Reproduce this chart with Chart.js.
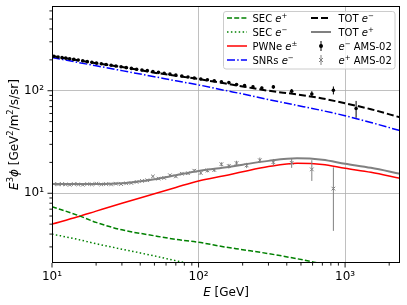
<!DOCTYPE html>
<html>
<head>
<meta charset="utf-8">
<script src="https://cdn.jsdelivr.net/npm/chart.js@4.4.1/dist/chart.umd.min.js"></script>
<style>
html, body { margin: 0; padding: 0; background: #fff; }
</style>
</head>
<body>
<canvas id="c" width="407" height="305"></canvas>
<script>
// model curves, read on a common energy grid (GeV)
const energies = [10, 15, 20, 30, 50, 70, 100, 150, 200, 300, 470, 700, 1000, 1500, 2370];
const secPos = [7.4, 6.1, 5.2, 4.4, 3.85, 3.55, 3.33, 3.0, 2.82, 2.58, 2.3, 2.05, 1.85, 1.68, 1.5];
const secEle = [4.0, 3.55, 3.22, 2.85, 2.45, 2.2, 1.98, 1.75, 1.62, 1.45, 1.3, 1.15, 1.05, 0.95, 0.85];
const pwne = [5.0, 5.9, 6.7, 8.0, 9.9, 11.4, 13.2, 14.8, 16.2, 18.2, 19.6, 19.1, 17.5, 16.0, 14.0];
const snrs = [211, 189, 175, 157, 137, 125, 114, 101, 93, 82, 72, 64, 57, 49, 40.8];
const totEle = [218, 198, 185, 170, 150, 140, 130, 118, 110, 100, 92, 84, 75.5, 66, 55];
const totPos = [12.35, 12.3, 12.3, 12.5, 13.7, 15.0, 16.5, 17.8, 19.0, 20.7, 21.9, 21.2, 19.4, 17.7, 15.5];

// AMS-02 electrons
const eleE = [10.3, 11.0, 11.7, 12.4, 13.2, 14.1, 15.1, 16.2, 17.4, 18.7, 20.1, 21.7, 23.4, 25.3, 27.3, 29.6, 32.1, 34.8, 37.8, 41.1,
  44.7, 48.8, 53.3, 58.3, 63.8, 70.0, 76.9, 84.7, 93.5, 103.5, 114.9, 128.0, 143.2, 161.0, 181.7, 206.1, 235.2, 270.3, 324, 432,
  593, 832, 1189];
const eleFlux = [217, 213, 210, 208, 205, 202, 199, 196, 192, 189, 186, 183, 180, 177, 174, 171, 168, 165, 162, 159,
  157, 154, 151, 148, 145, 142, 139, 136, 133, 130, 128, 125, 122, 120, 115, 112, 109, 106, 109, 99,
  93, 101, 67];
const eleErr = [1.2, 1.2, 1.2, 1.2, 1.2, 1.2, 1.2, 1.2, 1.2, 1.2, 1.3, 1.3, 1.3, 1.3, 1.3, 1.4, 1.4, 1.4, 1.5, 1.5,
  1.6, 1.6, 1.7, 1.8, 1.9, 2.0, 2.1, 2.2, 2.3, 2.4, 2.6, 2.8, 3.0, 3.2, 3.4, 3.6, 3.8, 4.0, 4.5, 5.0,
  6.0, 9.0, 12.5];

// AMS-02 positrons
const posE = [10.3, 11.0, 11.7, 12.4, 13.2, 14.1, 15.1, 16.2, 17.4, 18.7, 20.1, 21.7, 23.4, 25.3, 27.3, 29.6, 32.1, 34.8, 37.8, 41.1,
  44.7, 48.8, 53.3, 58.3, 63.8, 70.0, 76.9, 84.7, 93.5, 103.5, 114.9, 128.0, 143.2, 161.0, 181.7, 213, 262, 324, 432, 593,
  832];
const posFlux = [12.3, 12.2, 12.3, 12.2, 12.1, 12.3, 12.2, 12.1, 12.3, 12.2, 12.4, 12.2, 12.3, 12.2, 12.4, 12.3, 12.5, 12.6, 12.9, 13.2,
  13.4, 14.6, 13.9, 14.1, 15.0, 14.6, 15.5, 15.7, 16.6, 15.8, 16.7, 16.9, 19.2, 18.4, 19.7, 18.7, 21.0, 20.1, 19.8, 17.1,
  11.1];
const posErr = [0.2, 0.2, 0.2, 0.2, 0.2, 0.2, 0.2, 0.2, 0.2, 0.2, 0.2, 0.2, 0.2, 0.2, 0.2, 0.2, 0.2, 0.2, 0.2, 0.2,
  0.25, 0.3, 0.3, 0.35, 0.35, 0.4, 0.45, 0.5, 0.55, 0.6, 0.7, 0.75, 0.85, 0.95, 1.05, 1.1, 1.3, 1.5, 2.1, 3.9,
  6.8];

// axes
const xMajor = [10, 100, 1000];
const xMinor = [20, 30, 40, 50, 60, 70, 80, 90, 200, 300, 400, 500, 600, 700, 800, 900, 2000];
const xTickLabels = ['10¹', '10²', '10³'];
const yMajor = [10, 100];
const yMinor = [3, 4, 5, 6, 7, 8, 9, 20, 30, 40, 50, 60, 70, 80, 90, 200, 300, 400, 500, 600];
const yTickLabels = ['10¹', '10²'];

const legendLabels = ['SEC $e^+$', 'SEC $e^−$', 'PWNe $e^±$', 'SNRs $e^−$', 'TOT $e^−$', 'TOT $e^+$', '$e^−$ AMS-02', '$e^+$ AMS-02'];

const FONT = '"DejaVu Sans", sans-serif';

function pts(xs, ys) { return xs.map((v, i) => ({ x: v, y: ys[i] })); }

// text with $..$ math: letters italic, ^c superscript
function mathRuns(str) {
  const runs = [];
  str.split('$').forEach((seg, k) => {
    if (k % 2 === 0) { if (seg) runs.push({ t: seg, it: false, sup: false }); return; }
    for (let i = 0; i < seg.length; i++) {
      if (seg[i] === '^') runs.push({ t: seg[++i], it: false, sup: true });
      else runs.push({ t: seg[i], it: true, sup: false });
    }
  });
  return runs;
}
function drawMath(ctx, str, x, y, size, align) {
  const runs = mathRuns(str);
  const fontOf = r => (r.it ? 'italic ' : '') + (r.sup ? size * 0.7 : size) + 'px ' + FONT;
  let w = 0;
  runs.forEach(r => { ctx.font = fontOf(r); r.w = ctx.measureText(r.t).width; w += r.w; });
  let cx = align === 'center' ? x - w / 2 : x;
  ctx.textBaseline = 'alphabetic';
  ctx.textAlign = 'left';
  runs.forEach(r => {
    ctx.font = fontOf(r);
    ctx.fillText(r.t, cx, r.sup ? y - size * 0.38 : y);
    cx += r.w;
  });
}

const errorBars = {
  id: 'errorBars',
  afterDatasetsDraw(chart) {
    const { ctx, chartArea: a, scales: { x, y } } = chart;
    ctx.save();
    ctx.beginPath();
    ctx.rect(a.left, a.top, a.width, a.height);
    ctx.clip();
    [[posE, posFlux, posErr, '#808080'], [eleE, eleFlux, eleErr, '#000']].forEach(([xs, ys, es, col]) => {
      ctx.strokeStyle = col;
      ctx.lineWidth = 1;
      xs.forEach((v, i) => {
        const px = x.getPixelForValue(v);
        ctx.beginPath();
        ctx.moveTo(px, y.getPixelForValue(ys[i] + es[i]));
        ctx.lineTo(px, y.getPixelForValue(ys[i] - es[i]));
        ctx.stroke();
      });
    });
    ctx.restore();
  }
};

const decor = {
  id: 'decor',
  afterDraw(chart) {
    const { ctx, chartArea: a, scales: { x, y } } = chart;
    ctx.save();
    // ticks
    ctx.strokeStyle = '#000';
    ctx.lineWidth = 0.9;
    const tick = (x1, y1, x2, y2) => { ctx.beginPath(); ctx.moveTo(x1, y1); ctx.lineTo(x2, y2); ctx.stroke(); };
    xMajor.forEach(v => { const p = x.getPixelForValue(v); tick(p, a.bottom, p, a.bottom + 4.5); });
    xMinor.forEach(v => { const p = x.getPixelForValue(v); tick(p, a.bottom, p, a.bottom + 2.6); });
    yMajor.forEach(v => { const p = y.getPixelForValue(v); tick(a.left, p, a.left - 4.5, p); });
    yMinor.forEach(v => { const p = y.getPixelForValue(v); tick(a.left, p, a.left - 2.6, p); });
    // frame
    ctx.lineWidth = 1;
    ctx.strokeRect(a.left + 0.5, a.top + 0.5, a.width - 1, a.height - 1);

    // axis titles
    ctx.fillStyle = '#000';
    drawMath(ctx, '$E$ [GeV]', (a.left + a.right) / 2, 296, 12, 'center');
    ctx.save();
    ctx.translate(18, (a.top + a.bottom) / 2);
    ctx.rotate(-Math.PI / 2);
    drawMath(ctx, '$E^3ϕ$ [GeV$^2$/m$^2$/s/sr]', 0, 0, 12, 'center');
    ctx.restore();

    // legend
    const bx = 223.5, by = 11.5, bw = 171.5, bh = 57.5;
    ctx.fillStyle = 'rgba(255,255,255,0.8)';
    ctx.strokeStyle = '#cccccc';
    ctx.lineWidth = 1;
    ctx.beginPath();
    ctx.roundRect(bx, by, bw, bh, 2.5);
    ctx.fill();
    ctx.stroke();

    const rowY = i => 18 + i * 14;
    const handles = [
      { col: 0, color: '#008000', lw: 1.5, dash: [5, 2.2] },
      { col: 0, color: '#008000', lw: 1.5, dash: [1.5, 2.4] },
      { col: 0, color: '#ff0000', lw: 1.5, dash: [] },
      { col: 0, color: '#0000ff', lw: 1.5, dash: [8, 2.2, 1.5, 2.2] },
      { col: 1, color: '#000000', lw: 2, dash: [7, 3] },
      { col: 1, color: '#808080', lw: 2, dash: [] },
      { col: 1, marker: 'dot', color: '#000000' },
      { col: 1, marker: 'x', color: '#808080' }
    ];
    handles.forEach((h, i) => {
      const r = i % 4;
      const yy = rowY(r);
      const x0 = h.col === 0 ? 227 : 311;
      const tx = h.col === 0 ? 252.5 : 338.5;
      ctx.save();
      ctx.strokeStyle = h.color;
      ctx.fillStyle = h.color;
      if (h.marker) {
        const mx = x0 + 10;
        ctx.lineWidth = 1;
        ctx.beginPath(); ctx.moveTo(mx, yy - 5); ctx.lineTo(mx, yy + 5); ctx.stroke();
        if (h.marker === 'dot') {
          ctx.beginPath(); ctx.arc(mx, yy, 2, 0, Math.PI * 2); ctx.fill();
        } else {
          ctx.beginPath();
          ctx.moveTo(mx - 2, yy - 2); ctx.lineTo(mx + 2, yy + 2);
          ctx.moveTo(mx + 2, yy - 2); ctx.lineTo(mx - 2, yy + 2);
          ctx.stroke();
        }
      } else {
        ctx.lineWidth = h.lw;
        ctx.setLineDash(h.dash);
        ctx.beginPath(); ctx.moveTo(x0, yy); ctx.lineTo(x0 + 20, yy); ctx.stroke();
      }
      ctx.restore();
      ctx.fillStyle = '#000';
      drawMath(ctx, legendLabels[i], tx, yy + 3.5, 10, 'left');
    });
    ctx.restore();
  }
};

function lineSet(label, ys, color, width, dash) {
  return {
    type: 'line', label: label, data: pts(energies, ys),
    borderColor: color, borderWidth: width, borderDash: dash,
    pointRadius: 0, fill: false, cubicInterpolationMode: 'monotone'
  };
}

new Chart(document.getElementById('c'), {
  data: {
    datasets: [
      { type: 'scatter', label: 'e- AMS-02', data: pts(eleE, eleFlux), pointStyle: 'circle', pointRadius: 1.8,
        backgroundColor: '#000', borderColor: '#000', borderWidth: 0 },
      { type: 'scatter', label: 'e+ AMS-02', data: pts(posE, posFlux), pointStyle: 'crossRot', pointRadius: 2.6,
        borderColor: '#808080', borderWidth: 1 },
      lineSet('TOT e-', totEle, '#000000', 2, [7, 3]),
      lineSet('TOT e+', totPos, '#808080', 2, []),
      lineSet('SEC e+', secPos, '#008000', 1.5, [5, 2.2]),
      lineSet('SEC e-', secEle, '#008000', 1.5, [1.5, 2.4]),
      lineSet('PWNe e±', pwne, '#ff0000', 1.5, []),
      lineSet('SNRs e-', snrs, '#0000ff', 1.5, [8, 2.2, 1.5, 2.2])
    ]
  },
  options: {
    responsive: false,
    animation: false,
    layout: { padding: { top: 6, right: 7, left: 0, bottom: 0 } },
    plugins: { legend: { display: false }, tooltip: { enabled: false } },
    scales: {
      x: {
        type: 'logarithmic', position: 'bottom', min: 10, max: 2370,
        afterBuildTicks: s => { s.ticks = xMajor.concat(xMinor).map(v => ({ value: v })); },
        afterFit: s => { s.height = 42; s.paddingLeft = 0; s.paddingRight = 0; },
        ticks: {
          autoSkip: false, maxRotation: 0, minRotation: 0, padding: 7, color: '#000',
          font: { family: FONT, size: 12 },
          callback: v => { const i = xMajor.indexOf(v); return i < 0 ? '' : xTickLabels[i]; }
        },
        grid: {
          drawTicks: false, lineWidth: 0.8,
          color: c => (c.tick && xMajor.includes(c.tick.value)) ? '#b0b0b0' : 'rgba(0,0,0,0)'
        },
        border: { display: false }
      },
      y: {
        type: 'logarithmic', position: 'left', min: 2.09, max: 670,
        afterBuildTicks: s => { s.ticks = yMajor.concat(yMinor).map(v => ({ value: v })); },
        afterFit: s => { s.width = 52; s.paddingTop = 0; s.paddingBottom = 0; },
        ticks: {
          autoSkip: false, padding: 8, color: '#000',
          font: { family: FONT, size: 12 },
          callback: v => { const i = yMajor.indexOf(v); return i < 0 ? '' : yTickLabels[i]; }
        },
        grid: {
          drawTicks: false, lineWidth: 0.8,
          color: c => (c.tick && yMajor.includes(c.tick.value)) ? '#b0b0b0' : 'rgba(0,0,0,0)'
        },
        border: { display: false }
      }
    }
  },
  plugins: [errorBars, decor]
});
</script>
</body>
</html>
